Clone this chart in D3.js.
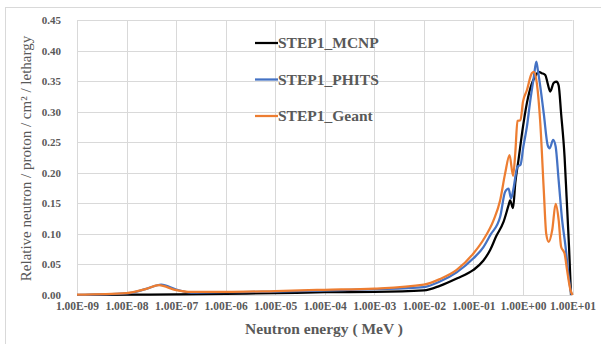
<!DOCTYPE html>
<html>
<head>
<meta charset="utf-8">
<script src="https://cdn.jsdelivr.net/npm/d3@7"></script>
<style>
  body { margin: 0; background: #fff; }
  svg { display: block; }
</style>
</head>
<body>
<div id="chart"></div>
<script>
// energy (MeV), flux per lethargy
const seriesNames = ["STEP1_MCNP", "STEP1_PHITS", "STEP1_Geant"];
const seriesColors = ["#000000", "#4472C4", "#ED7D31"];

const mcnpE = [1e-9, 1e-8, 1e-7, 1e-6, 1e-5, 1e-4, 1e-3, 1e-2, 0.021, 0.046, 0.1, 0.158, 0.219, 0.288, 0.407, 0.513, 0.55, 0.631, 0.70, 0.813, 1.0, 1.2, 1.51, 1.78, 2.09, 2.4, 2.82, 3.16, 3.55, 4.17, 4.79, 5.25, 5.89, 6.92, 7.59, 8.51, 9.33];
const mcnpV = [0.0, 0.0005, 0.001, 0.002, 0.003, 0.0045, 0.005, 0.0075, 0.015, 0.027, 0.041, 0.056, 0.074, 0.096, 0.12, 0.147, 0.155, 0.142, 0.183, 0.221, 0.275, 0.314, 0.346, 0.358, 0.365, 0.363, 0.36, 0.346, 0.333, 0.347, 0.349, 0.343, 0.297, 0.226, 0.161, 0.079, 0.0];

const phitsE = [1e-9, 1e-8, 2.5e-8, 5e-8, 1e-7, 2e-7, 1e-6, 1e-5, 1e-4, 1e-3, 1e-2, 0.021, 0.046, 0.1, 0.158, 0.219, 0.347, 0.437, 0.513, 0.575, 0.631, 0.776, 0.891, 1.02, 1.2, 1.41, 1.66, 1.86, 2.0, 2.24, 2.63, 3.16, 3.47, 4.07, 4.57, 5.25, 6.17, 7.24, 8.51, 9.55];
const phitsV = [0.0, 0.0025, 0.01, 0.017, 0.009, 0.004, 0.0045, 0.0055, 0.0075, 0.0095, 0.013, 0.022, 0.037, 0.06, 0.078, 0.098, 0.128, 0.169, 0.174, 0.158, 0.17, 0.21, 0.213, 0.243, 0.275, 0.319, 0.357, 0.382, 0.368, 0.341, 0.297, 0.245, 0.24, 0.254, 0.243, 0.188, 0.123, 0.079, 0.025, 0.0];

const geantE = [1e-9, 1e-8, 2.5e-8, 4.5e-8, 1e-7, 2e-7, 1e-6, 1e-5, 1e-4, 1e-3, 1e-2, 0.021, 0.046, 0.1, 0.158, 0.257, 0.347, 0.437, 0.537, 0.631, 0.70, 0.776, 0.891, 1.0, 1.2, 1.51, 1.66, 1.91, 2.24, 2.63, 2.95, 3.31, 3.89, 4.57, 5.25, 5.89, 6.92, 7.76, 9.12, 10];
const geantV = [0.0005, 0.003, 0.01, 0.016, 0.008, 0.005, 0.005, 0.0065, 0.0085, 0.0105, 0.017, 0.026, 0.041, 0.068, 0.09, 0.123, 0.155, 0.199, 0.229, 0.195, 0.232, 0.285, 0.286, 0.316, 0.335, 0.363, 0.365, 0.346, 0.281, 0.172, 0.10, 0.087, 0.106, 0.149, 0.123, 0.079, 0.068, 0.041, 0.008, 0.0];

const xTicks = [1e-9, 1e-8, 1e-7, 1e-6, 1e-5, 1e-4, 1e-3, 1e-2, 1e-1, 1e0, 1e1];
const xTickLabels = ["1.00E-09", "1.00E-08", "1.00E-07", "1.00E-06", "1.00E-05", "1.00E-04", "1.00E-03", "1.00E-02", "1.00E-01", "1.00E+00", "1.00E+01"];
const yTicks = [0, 0.05, 0.10, 0.15, 0.20, 0.25, 0.30, 0.35, 0.40, 0.45];

const W = 601, H = 344;
const plot = {left: 77, right: 572.5, top: 20, bottom: 295};
const FONT = "'Liberation Serif', 'Times New Roman', serif";
const GREY = "#595959";

const svg = d3.select("#chart").append("svg")
    .attr("width", W)
    .attr("height", H);

// outer frame (only top/left visible in the picture)
svg.append("rect")
    .attr("x", 5.5).attr("y", 7.5)
    .attr("width", 700).attr("height", 500)
    .attr("fill", "none")
    .attr("stroke", "#d9d9d9");

const x = d3.scaleLog().domain([1e-9, 10]).range([plot.left, plot.right]);
const y = d3.scaleLinear().domain([0, 0.45]).range([plot.bottom, plot.top]);

// grid
let grid = svg.append("g");
grid.selectAll("line.v").data(xTicks).join("line")
    .attr("x1", d => Math.round(x(d)) + 0.5).attr("x2", d => Math.round(x(d)) + 0.5)
    .attr("y1", plot.top).attr("y2", plot.bottom)
    .attr("stroke", "#d9d9d9");
grid.selectAll("line.h").data(yTicks).join("line")
    .attr("x1", plot.left).attr("x2", plot.right)
    .attr("y1", d => Math.round(y(d)) + 0.5).attr("y2", d => Math.round(y(d)) + 0.5)
    .attr("stroke", "#d9d9d9");

// y axis
const yAxis = d3.axisLeft(y).tickValues(yTicks).tickFormat(d3.format(".2f")).tickSize(0).tickPadding(16);
const gy = svg.append("g").attr("transform", `translate(${plot.left},0)`).call(yAxis);
gy.select(".domain").remove();
gy.selectAll("text")
    .attr("font-family", FONT).attr("font-size", 11).attr("font-weight", "bold")
    .attr("fill", GREY);

// x axis
const xAxis = d3.axisBottom(x).tickValues(xTicks)
    .tickFormat((d, i) => xTickLabels[i]).tickSize(0).tickPadding(7);
const gx = svg.append("g").attr("transform", `translate(0,${plot.bottom})`).call(xAxis);
gx.select(".domain").remove();
gx.selectAll("text")
    .attr("font-family", FONT).attr("font-size", 11.5).attr("font-weight", "bold")
    .attr("fill", GREY);

// lines
const series = [
    {name: seriesNames[0], color: seriesColors[0], e: mcnpE, v: mcnpV},
    {name: seriesNames[1], color: seriesColors[1], e: phitsE, v: phitsV},
    {name: seriesNames[2], color: seriesColors[2], e: geantE, v: geantV}
];
const line = d3.line()
    .x(d => x(d[0]))
    .y(d => y(d[1]))
    .curve(d3.curveMonotoneX);

series.forEach(s => {
    svg.append("path")
        .datum(s.e.map((e, i) => [e, s.v[i]]))
        .attr("d", line)
        .attr("fill", "none")
        .attr("stroke", s.color)
        .attr("stroke-width", 2.25)
        .attr("stroke-linejoin", "round");
});

// legend
let legend = svg.append("g").attr("transform", "translate(255, 43)");
series.forEach((s, i) => {
    let item = legend.append("g").attr("transform", `translate(0, ${i * 36.5})`);
    item.append("line")
        .attr("x1", 0).attr("x2", 23)
        .attr("stroke", s.color).attr("stroke-width", 2.25);
    item.append("text")
        .attr("x", 23).attr("y", 5)
        .attr("font-family", FONT).attr("font-size", 15.5).attr("font-weight", "bold")
        .attr("fill", GREY)
        .text(s.name);
});

// axis titles
svg.append("text")
    .attr("x", 324).attr("y", 334)
    .attr("text-anchor", "middle")
    .attr("font-family", FONT).attr("font-size", 15.5).attr("font-weight", "bold")
    .attr("fill", GREY)
    .text("Neutron energy ( MeV )");

svg.append("text")
    .attr("transform", "translate(31, 158.5) rotate(-90)")
    .attr("text-anchor", "middle")
    .attr("font-family", FONT).attr("font-size", 15)
    .attr("fill", GREY)
    .text("Relative neutron / proton / cm² / lethargy");
</script>
</body>
</html>
